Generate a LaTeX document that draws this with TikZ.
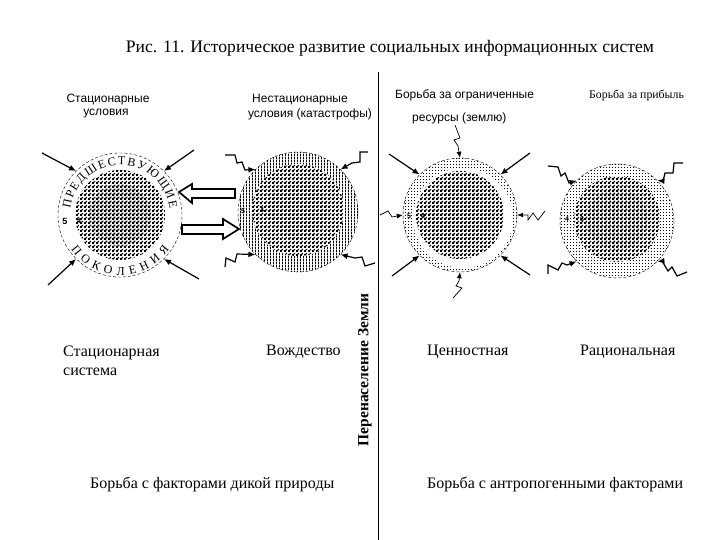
\documentclass[tikz,border=0pt]{standalone}
\usepackage{fontspec}
\setmainfont{Liberation Serif}
\setsansfont{Liberation Sans}
\usetikzlibrary{patterns,decorations.text,arrows.meta}

\pgfdeclarepatternformonly{checker}{\pgfqpoint{0pt}{0pt}}{\pgfqpoint{4pt}{4pt}}{\pgfqpoint{4pt}{4pt}}{
    \pgfpathrectangle{\pgfqpoint{0pt}{0pt}}{\pgfqpoint{2.2pt}{2.2pt}}
    \pgfpathrectangle{\pgfqpoint{2pt}{2pt}}{\pgfqpoint{2pt}{2pt}}
    \pgfusepath{fill}
}
\pgfdeclarepatternformonly{checkdark}{\pgfqpoint{0pt}{0pt}}{\pgfqpoint{4pt}{4pt}}{\pgfqpoint{4pt}{4pt}}{
    \pgfpathrectangle{\pgfqpoint{0pt}{0pt}}{\pgfqpoint{2.7pt}{2.7pt}}
    \pgfpathrectangle{\pgfqpoint{2pt}{2pt}}{\pgfqpoint{2pt}{2pt}}
    \pgfusepath{fill}
}
\pgfdeclarepatternformonly{stripes}{\pgfqpoint{0pt}{0pt}}{\pgfqpoint{3pt}{3pt}}{\pgfqpoint{3pt}{3pt}}{
    \pgfpathrectangle{\pgfqpoint{0pt}{0pt}}{\pgfqpoint{1.2pt}{3pt}}
    \pgfusepath{fill}
}
\pgfdeclarepatternformonly{finedots}{\pgfqpoint{0pt}{0pt}}{\pgfqpoint{3pt}{3pt}}{\pgfqpoint{3pt}{3pt}}{
    \pgfpathrectangle{\pgfqpoint{0pt}{0pt}}{\pgfqpoint{1pt}{1pt}}
    \pgfusepath{fill}
}

\tikzset{
    serifnote/.style={font=\rmfamily\fontsize{16}{19}\selectfont, align=left, anchor=west, inner sep=0pt},
    sansnote/.style={font=\sffamily\fontsize{12}{14}\selectfont, inner sep=0pt},
    ringnum/.style={font=\sffamily\bfseries\fontsize{7}{8}\selectfont, inner sep=0pt},
    outerring/.style={circle, draw, densely dashed, inner sep=0pt},
    innercore/.style={circle, inner sep=0pt, fill=white, postaction={pattern=checker}},
    darkcore/.style={circle, inner sep=0pt, fill=white, postaction={pattern=checkdark}},
    hitarrow/.style={-{Latex[length=7pt,width=6pt]}, line width=1.2pt},
    thinarrow/.style={-{Latex[length=6pt,width=5pt]}, line width=0.7pt},
    flatarrow/.style={line width=1.7pt, fill=white},
}

\begin{document}
\begin{tikzpicture}[x=1pt,y=-1pt]
    \useasboundingbox (0,0) rectangle (720,540);

    \node[font=\rmfamily\fontsize{17.6}{20}\selectfont] (title) at (390,48) {Рис. 11. Историческое развитие социальных информационных систем};

    % the four rings
    \node[outerring, minimum size=124pt] (ringa) at (120,215) {};
    \node[outerring, minimum size=120pt, pattern=stripes] (ringb) at (298,212) {};
    \node[outerring, minimum size=114pt, pattern=finedots] (ringc) at (460,215) {};
    \node[outerring, minimum size=114pt, pattern=finedots] (ringd) at (617,221) {};
    \node[circle, fill=white, minimum size=100pt, inner sep=0pt] (gapc) at (463,218) {};
    \node[innercore, minimum size=90pt] (corea) at (120,215) {};
    \node[innercore, minimum size=92pt] (coreb) at (298,210) {};
    \node[innercore, minimum size=88pt] (corec) at (460,215) {};
    \node[innercore, minimum size=86pt] (cored) at (617,219) {};
    \node[darkcore, minimum size=62pt] (deepa) at (120,215) {};
    \node[darkcore, minimum size=62pt] (deepb) at (298,210) {};
    \node[darkcore, minimum size=66pt] (deepc) at (460,215) {};
    \node[darkcore, minimum size=62pt] (deepd) at (617,219) {};

    % text round the first ring
    \path[postaction={decorate, decoration={text along path, text align={fit to path},
        text={|\rmfamily\fontsize{12}{14}\selectfont|ПРЕДШЕСТВУЮЩИЕ}}}]
        (70.4,208.9) arc (187:353:50);
    \path[postaction={decorate, decoration={text along path, text align={fit to path},
        text={|\rmfamily\fontsize{12}{14}\selectfont|ПОКОЛЕНИЯ}}}]
        (70.9,249.4) arc (145:35:60);

    % numbers
    \node[font=\sffamily\bfseries\fontsize{9}{10}\selectfont, inner sep=0pt] (numa) at (65,221) {5};
    \node[ringnum] (numaa) at (79,221) {4};
    \node[ringnum] (numb) at (243,211) {5};
    \node[ringnum] (numbb) at (262,210) {4};
    \node[ringnum] (numc) at (409,216) {5};
    \node[ringnum] (numcc) at (423,216) {4};
    \node[ringnum] (numd) at (567,219) {4};
    \node[ringnum] (numdd) at (582,219) {3};

    % labels over the rings
    \node[sansnote] (stata) at (108,100) {Стационарные};
    \node[sansnote] (statb) at (106,114) {условия};
    \node[sansnote] (statc) at (300,100) {Нестационарные};
    \node[sansnote] (statd) at (310,114) {условия (катастрофы)};
    \node[sansnote, anchor=west] (state) at (395,95) {Борьба за ограниченные};
    \node[sansnote, anchor=west] (statf) at (412,118) {ресурсы  (землю)};
    \node[font=\rmfamily\fontsize{11.8}{14}\selectfont, anchor=west, inner sep=0pt] (statg) at (589,96) {Борьба за прибыль};

    % labels under the rings
    \node[serifnote] (namea) at (63,361) {Стационарная\\система};
    \node[serifnote] (nameb) at (266,352) {Вождество};
    \node[serifnote] (namec) at (427,352) {Ценностная};
    \node[serifnote] (named) at (580,352) {Рациональная};
    \node[serifnote] (fighta) at (90,484) {Борьба с факторами дикой природы};
    \node[serifnote] (fightb) at (427,484) {Борьба с антропогенными факторами};
    \node[font=\rmfamily\bfseries\fontsize{15.5}{18}\selectfont, rotate=90, inner sep=0pt] (over) at (365,370) {Перенаселение Земли};

    % dividing line
    \coordinate (topline) at (378,72);
    \coordinate (botline) at (378,540);
    \draw[line width=0.9pt] (topline) -- (botline);

    % straight arrows
    \coordinate (sa1) at (42,153);
    \coordinate (sa2) at (194,150);
    \coordinate (sa3) at (48,285);
    \coordinate (sa4) at (199,279);
    \coordinate (sc1) at (389,154);
    \coordinate (sc2) at (530,153);
    \coordinate (sc3) at (392,276);
    \coordinate (sc4) at (530,275);
    \draw[hitarrow] (sa1) -- (ringa.135);
    \draw[hitarrow] (sa2) -- (ringa.45);
    \draw[hitarrow] (sa3) -- (ringa.225);
    \draw[hitarrow] (sa4) -- (ringa.315);
    \draw[hitarrow] (sc1) -- (ringc.135);
    \draw[hitarrow] (sc2) -- (ringc.45);
    \draw[hitarrow] (sc3) -- (ringc.225);
    \draw[hitarrow] (sc4) -- (ringc.315);

    % wavy arrows
    \coordinate (zb1) at (225,155);
    \coordinate (zb2) at (368,152);
    \coordinate (zb3) at (225,267);
    \coordinate (zb4) at (375,263);
    \draw[hitarrow] (zb1) -- (235,155) -- (237,163) -- (242,162) -- (245,170) -- (ringb.135);
    \draw[hitarrow] (zb2) -- (360,152) -- (360,162) -- (352,163) -- (ringb.45);
    \draw[hitarrow] (zb3) -- (226,258) -- (235,262) -- (237,254) -- (ringb.225);
    \draw[hitarrow] (zb4) -- (365,266) -- (362,257) -- (355,258) -- (ringb.315);
    \coordinate (zd1) at (548,166);
    \coordinate (zd2) at (683,163);
    \coordinate (zd3) at (548,274);
    \coordinate (zd4) at (687,272);
    \draw[hitarrow] (zd1) -- (558,167) -- (561,176) -- (565,173) -- (569,183) -- (ringd.135);
    \draw[hitarrow] (zd2) -- (674,163) -- (673,173) -- (665,173) -- (663,181) -- (ringd.45);
    \draw[hitarrow] (zd3) -- (548,265) -- (558,270) -- (562,263) -- (567,265) -- (ringd.225);
    \draw[hitarrow] (zd4) -- (677,276) -- (672,267) -- (668,271) -- (662,261) -- (ringd.315);
    \coordinate (zc1) at (455,125);
    \coordinate (zc2) at (453,298);
    \coordinate (zc3) at (380,215);
    \coordinate (zc4) at (545,211);
    \draw[thinarrow] (zc1) -- (460,138) -- (454,140) -- (458,146) -- (ringc.90);
    \draw[thinarrow] (zc2) -- (462,288) -- (456,286) -- (459,281) -- (ringc.270);
    \draw[thinarrow] (zc3) -- (388,211) -- (392,217) -- (ringc.180);
    \draw[thinarrow] (zc4) -- (538,220) -- (533,213) -- (528,220) -- (528,215) -- (ringc.0);

    % block arrows between the first two rings
    \coordinate (flatl) at (179,192);
    \coordinate (flatr) at (239,229);
    \draw[flatarrow] (flatl) -- (192,184) -- (192,189) -- (235,189) -- (235,198) -- (192,198) -- (192,203) -- cycle;
    \draw[flatarrow] (flatr) -- (223,219) -- (223,225) -- (182,225) -- (182,234) -- (223,234) -- (223,239) -- cycle;
\end{tikzpicture}
\end{document}
